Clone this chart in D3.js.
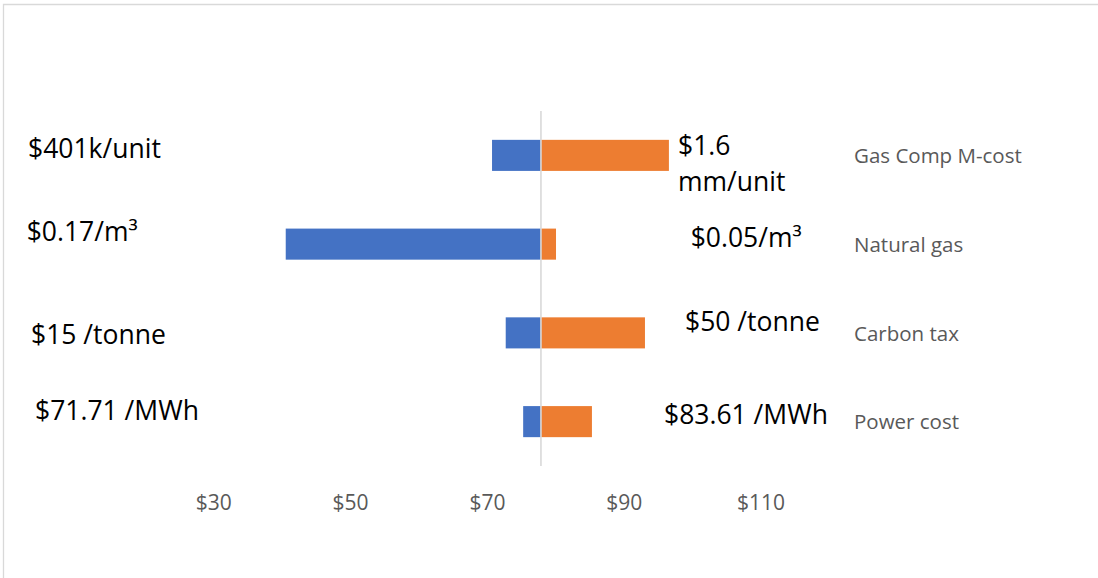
<!DOCTYPE html>
<html>
<head>
<meta charset="utf-8">
<script src="https://cdn.jsdelivr.net/npm/d3@7"></script>
<style>
  html, body { margin: 0; padding: 0; background: #fff; }
  svg { display: block; }
</style>
</head>
<body>
<svg id="chart" width="1098" height="578"></svg>
<script>
// Tornado chart: sensitivity of cost to four input parameters
const categories = ["Gas Comp M-cost", "Natural gas", "Carbon tax", "Power cost"];
const baseValue = 77.9;
const lowValues  = [70.75, 40.6, 72.75, 75.3];
const highValues = [96.6, 80.1, 93.1, 85.35];
const lowLabels  = ["$401k/unit", "$0.17/m³", "$15 /tonne", "$71.71 /MWh"];
const highLabels = [["$1.6", "mm/unit"], ["$0.05/m³"], ["$50 /tonne"], ["$83.61 /MWh"]];
const tickValues = [30, 50, 70, 90, 110];

// Layout
const plot = { left: 213.2, right: 760.6, top: 111, bottom: 466 };
const lowLabelPos  = [[28, 158], [26.7, 240.7], [31, 344], [35, 420]];
const highLabelPos = [[678, 155], [690.7, 246.7], [685, 330.7], [664, 424.3]];
const lineGap = 36;

const svg = d3.select("#chart");

// Chart area frame
svg.append("path")
  .attr("d", "M3.5,578V4.5H1098")
  .attr("fill", "none")
  .attr("stroke", "#D9D9D9")
  .attr("stroke-width", 1.3);

const x = d3.scaleLinear().domain([30, 110]).range([plot.left, plot.right]);
const y = d3.scaleBand().domain(categories)
  .range([plot.top, plot.bottom])
  .paddingInner(0.65).paddingOuter(0.325);

const rows = categories.map((c, i) => ({ c, lo: lowValues[i], hi: highValues[i], i }));

// Low-side bars (blue)
svg.append("g").selectAll("rect").data(rows).join("rect")
  .attr("x", d => x(Math.min(d.lo, baseValue)))
  .attr("width", d => Math.abs(x(baseValue) - x(d.lo)))
  .attr("y", d => y(d.c))
  .attr("height", y.bandwidth())
  .attr("fill", "#4472C4");

// High-side bars (orange)
svg.append("g").selectAll("rect").data(rows).join("rect")
  .attr("x", d => x(Math.min(d.hi, baseValue)))
  .attr("width", d => Math.abs(x(d.hi) - x(baseValue)))
  .attr("y", d => y(d.c))
  .attr("height", y.bandwidth())
  .attr("fill", "#ED7D31");

// Base value line
svg.append("line")
  .attr("x1", x(baseValue)).attr("x2", x(baseValue))
  .attr("y1", plot.top).attr("y2", plot.bottom)
  .attr("stroke", "#D9D9D9")
  .attr("stroke-width", 1.6);

// Value axis
const axis = svg.append("g")
  .attr("transform", `translate(0,${plot.bottom})`)
  .call(d3.axisBottom(x).tickValues(tickValues).tickSize(0).tickFormat(d => "$" + d));
axis.select(".domain").remove();
axis.selectAll("text")
  .attr("y", 0).attr("dy", null)
  .attr("transform", "translate(0,44)")
  .attr("fill", "#595959")
  .style("font-family", "'Open Sans', sans-serif")
  .style("font-size", "21px");

// Category names
svg.append("g").selectAll("text").data(rows).join("text")
  .attr("x", 854)
  .attr("y", d => y(d.c) + y.bandwidth() / 2 + 7.8)
  .attr("fill", "#595959")
  .style("font-family", "'Open Sans', sans-serif")
  .style("font-size", "20.5px")
  .text(d => d.c);

// Parameter range labels
const labelFont = sel => sel
  .attr("fill", "#000")
  .style("font-family", "'Open Sans', sans-serif")
  .style("font-size", "26.5px");

svg.append("g").selectAll("text").data(lowLabels).join("text")
  .attr("x", (d, i) => lowLabelPos[i][0])
  .attr("y", (d, i) => lowLabelPos[i][1])
  .call(labelFont)
  .text(d => d);

const hi = svg.append("g").selectAll("text").data(highLabels).join("text")
  .attr("x", (d, i) => highLabelPos[i][0])
  .attr("y", (d, i) => highLabelPos[i][1])
  .call(labelFont);
hi.selectAll("tspan").data((d, i) => d.map((t, k) => ({ t, k, i }))).join("tspan")
  .attr("x", d => highLabelPos[d.i][0])
  .attr("dy", d => d.k === 0 ? 0 : lineGap)
  .text(d => d.t);
</script>
</body>
</html>
